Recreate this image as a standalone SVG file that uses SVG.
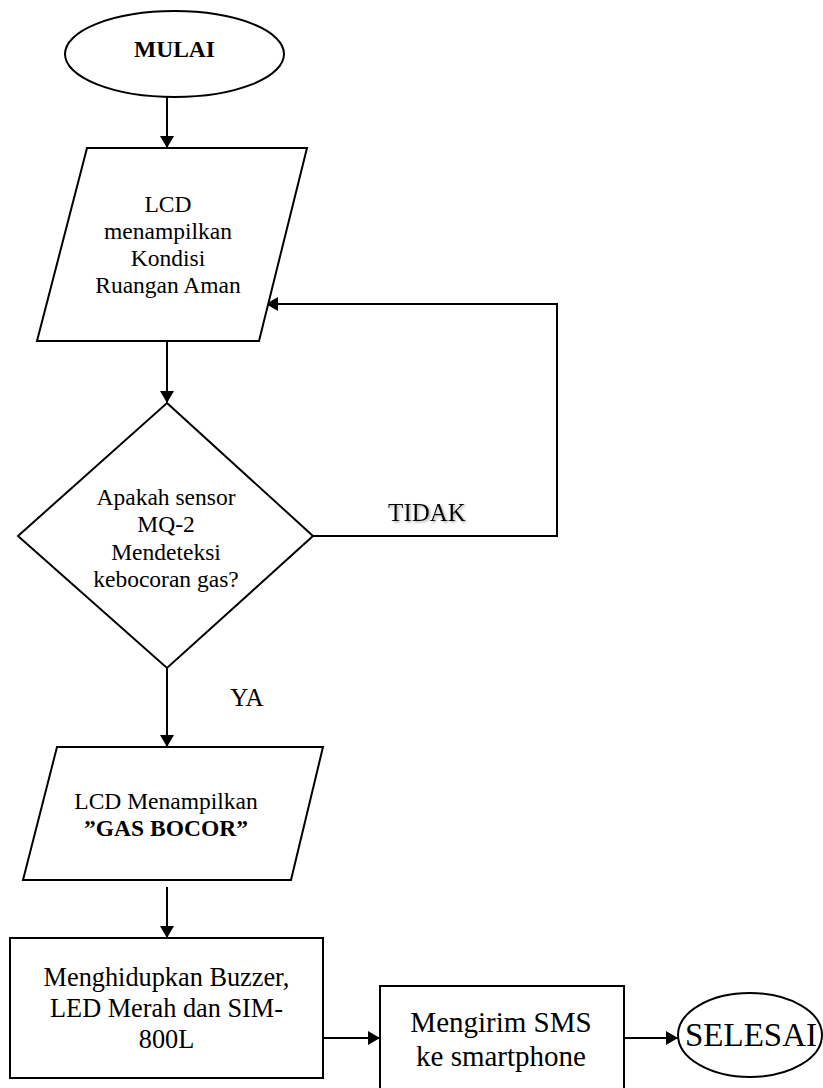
<svg xmlns="http://www.w3.org/2000/svg" width="823" height="1088" viewBox="0 0 823 1088">
<style>
.s{fill:#fff;stroke:#000;stroke-width:2}
.c{fill:none;stroke:#000;stroke-width:2}
text{fill:#000;text-anchor:middle;font-family:'Liberation Serif','DejaVu Serif',serif}
.t{font-size:23.5px}
.b{font-weight:bold}
.lbl{font-size:25px}
</style>
<defs>
<marker id="ah" markerUnits="userSpaceOnUse" markerWidth="12" markerHeight="14" viewBox="0 0 12 14" refX="12" refY="7" orient="auto">
<path d="M0,0 L12,7 L0,14 z" fill="#000"/>
</marker>
<filter id="sh" x="-10%" y="-10%" width="130%" height="140%">
<feDropShadow dx="1.5" dy="1.5" stdDeviation="0.8" flood-color="#888" flood-opacity="0.7"/>
</filter>
</defs>
<rect width="823" height="1088" fill="#fff"/>
<g id="connectors">
<line class="c" x1="167" y1="97" x2="167" y2="148" marker-end="url(#ah)"/>
<line class="c" x1="167" y1="341" x2="167" y2="403" marker-end="url(#ah)"/>
<polyline class="c" points="313,536 557,536 557,304 266,304" marker-end="url(#ah)"/>
<line class="c" x1="167" y1="668" x2="167" y2="747" marker-end="url(#ah)"/>
<line class="c" x1="167" y1="887" x2="167" y2="938" marker-end="url(#ah)"/>
<line class="c" x1="323" y1="1038" x2="380" y2="1038" marker-end="url(#ah)"/>
<line class="c" x1="624" y1="1038" x2="678" y2="1038" marker-end="url(#ah)"/>
<text class="lbl" x="427" y="521" filter="url(#sh)">TIDAK</text>
<text class="lbl" x="247" y="706">YA</text>
</g>
<g id="mulai">
<ellipse class="s" cx="174.5" cy="54" rx="109.5" ry="43"/>
<text class="t b" x="174.5" y="57">MULAI</text>
</g>
<g id="lcd-aman">
<polygon class="s" points="87,148 307,148 259,341 37,341"/>
<text class="t" x="168" y="212">LCD</text>
<text class="t" x="168" y="239">menampilkan</text>
<text class="t" x="168" y="266">Kondisi</text>
<text class="t" x="168" y="293">Ruangan Aman</text>
</g>
<g id="decision">
<polygon class="s" points="167,403 313,536 167,668 18,536"/>
<text class="t" x="166" y="505">Apakah sensor</text>
<text class="t" x="166" y="532">MQ-2</text>
<text class="t" x="166" y="560">Mendeteksi</text>
<text class="t" x="166" y="587">kebocoran gas?</text>
</g>
<g id="lcd-bocor">
<polygon class="s" points="57,747 323,747 291,880 23,880"/>
<text class="t" x="166" y="809">LCD Menampilkan</text>
<text class="t b" x="166" y="836">”GAS BOCOR”</text>
</g>
<g id="buzzer">
<rect class="s" x="10" y="938" width="313" height="140"/>
<text x="166.5" y="986" font-size="26.3">Menghidupkan Buzzer,</text>
<text x="166.5" y="1017" font-size="26.3">LED Merah dan SIM-</text>
<text x="166.5" y="1048" font-size="26.3">800L</text>
</g>
<g id="sms">
<rect class="s" x="380" y="986" width="244" height="115"/>
<text x="501" y="1032" font-size="29">Mengirim SMS</text>
<text x="501" y="1066" font-size="29">ke smartphone</text>
</g>
<g id="selesai">
<ellipse class="s" cx="750" cy="1035" rx="72" ry="42"/>
<text x="751" y="1046" font-size="33">SELESAI</text>
</g>
</svg>
